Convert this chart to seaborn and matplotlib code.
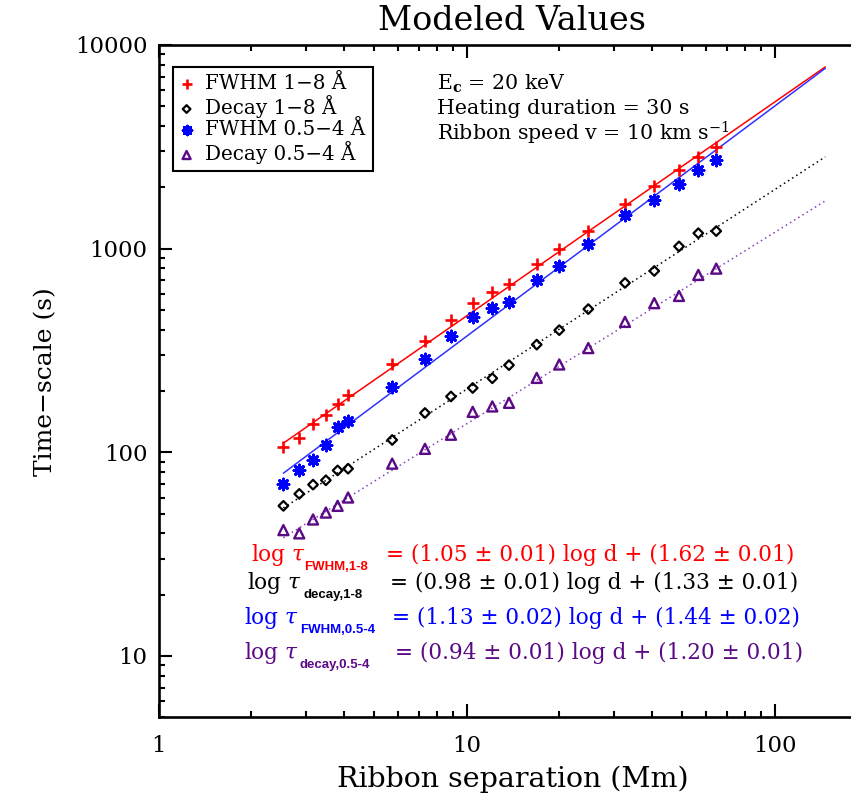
import numpy as np
import pandas as pd
import matplotlib
matplotlib.use("Agg")
import matplotlib.pyplot as plt
import seaborn as sns
from matplotlib.ticker import FixedLocator, NullFormatter, FixedFormatter

# Ribbon separation (Mm) for every modeled flare
separation = [2.54, 2.86, 3.17, 3.49, 3.81, 4.12, 5.73, 7.32, 8.89, 10.46,
              12.11, 13.72, 16.88, 19.98, 24.82, 32.66, 40.64, 48.9, 56.5, 64.6]

# Time-scales (s)
fwhm_1_8 = [106, 118, 137, 152, 173, 191, 272, 353, 447, 544,
            616, 669, 845, 995, 1220, 1661, 2025, 2425, 2830, 3160]
decay_1_8 = [54.6, 62.5, 69.4, 72.9, 81.5, 83.1, 115, 156, 188, 207,
             231, 268, 338, 398, 505, 679, 777, 1026, 1191, 1220]
fwhm_05_4 = [70.2, 82.2, 91.3, 109, 133, 142, 209, 287, 374, 460,
             509, 548, 700, 822, 1058, 1455, 1743, 2083, 2439, 2715]
decay_05_4 = [41.5, 40.0, 46.8, 50.6, 54.6, 60, 88, 104, 122, 158,
              168, 175, 232, 270, 325, 437, 540, 586, 743, 798]

series_labels = ["FWHM 1\u22128 \u00c5", "Decay 1\u22128 \u00c5",
                 "FWHM 0.5\u22124 \u00c5", "Decay 0.5\u22124 \u00c5"]
sub_labels = ["FWHM,1-8", "decay,1-8", "FWHM,0.5-4", "decay,0.5-4"]

# Power-law fits: log tau = slope * log d + intercept
slopes = [1.05, 0.98, 1.13, 0.94]
slope_err = [0.01, 0.01, 0.02, 0.01]
intercepts = [1.62, 1.33, 1.44, 1.20]
intercept_err = [0.01, 0.01, 0.02, 0.01]
fit_d_max = 146.0

x_ticks = [1, 10, 100]
x_tick_labels = ["1", "10", "100"]
y_ticks = [10, 100, 1000, 10000]
y_tick_labels = ["10", "100", "1000", "10000"]

PURPLE = "#5b0a85"
colors = ["#ff0000", "#000000", "#0000ff", PURPLE]
line_colors = ["#ff0000", "#000000", "#3030ff", "#8a3cc0"]
line_styles = ["-", (0, (1, 2.2)), "-", (0, (1, 2.2))]

W, H = 851, 799
sns.set_theme(style="ticks")
plt.rcParams["font.family"] = ["DejaVu Serif"]
plt.rcParams["mathtext.fontset"] = "dejavuserif"
for key in ["text.color", "axes.labelcolor", "xtick.color", "ytick.color",
            "axes.edgecolor"]:
    plt.rcParams[key] = "black"

fig = plt.figure(figsize=(W / 100, H / 100), dpi=100)


def fx(px):
    return px / W


def fy(py):
    return 1 - py / H


ax_left, ax_right, ax_top, ax_bottom = 158.7, 867.4, 45.0, 717.3
ax = fig.add_axes([fx(ax_left), fy(ax_bottom), (ax_right - ax_left) / W,
                   (ax_bottom - ax_top) / H])
ax.set_xscale("log")
ax.set_yscale("log")

values = [fwhm_1_8, decay_1_8, fwhm_05_4, decay_05_4]
df = pd.DataFrame({"d": separation * 4,
                   "tau": np.concatenate(values),
                   "series": np.repeat(series_labels, len(separation))})

# fitted lines
d_fit = np.array([min(separation), fit_d_max])
for i, lab in enumerate(series_labels):
    fit = pd.DataFrame({"d": d_fit, "tau": 10 ** (slopes[i] * np.log10(d_fit) + intercepts[i])})
    sns.lineplot(data=fit, x="d", y="tau", ax=ax, color=line_colors[i],
                 linestyle=line_styles[i], linewidth=1.1, legend=False, zorder=2)

# modeled points
marker_specs = [
    dict(marker="+", s=75, linewidths=1.9, color=colors[0]),
    dict(marker="D", s=24, linewidths=1.6, facecolor="none", edgecolor=colors[1]),
    dict(marker=(8, 2, 0), s=62, linewidths=2.1, color=colors[2]),
    dict(marker="^", s=52, linewidths=1.7, facecolor="none", edgecolor=colors[3]),
]
for i, lab in enumerate(series_labels):
    sub = df[df["series"] == lab]
    sns.scatterplot(data=sub, x="d", y="tau", ax=ax, label=lab, zorder=3, **marker_specs[i])

ax.set_xlim(1, 200)
ax.set_ylim(5, 10000)

ax.xaxis.set_major_locator(FixedLocator(x_ticks))
ax.xaxis.set_major_formatter(FixedFormatter(x_tick_labels))
ax.xaxis.set_minor_locator(FixedLocator([m * 10 ** e for e in range(0, 3) for m in range(2, 10)]))
ax.xaxis.set_minor_formatter(NullFormatter())
ax.yaxis.set_major_locator(FixedLocator(y_ticks))
ax.yaxis.set_major_formatter(FixedFormatter(y_tick_labels))
ax.yaxis.set_minor_locator(FixedLocator([m * 10 ** e for e in range(0, 4) for m in range(2, 10)]))
ax.yaxis.set_minor_formatter(NullFormatter())

ax.tick_params(which="both", direction="in", top=True, right=True, color="black", width=1.5)
ax.tick_params(which="major", length=9.5)
ax.tick_params(which="minor", length=4.5)
ax.tick_params(axis="x", which="major", labelsize=16.5, pad=13)
ax.tick_params(axis="y", which="major", labelsize=16.5, pad=8)
for sp in ax.spines.values():
    sp.set_linewidth(1.9)
    sp.set_color("black")

ax.set_xlabel("Ribbon separation (Mm)", fontsize=20.5, labelpad=6)
ax.set_ylabel("Time\u2212scale (s)", fontsize=18, labelpad=13)
fig.text(fx(512), fy(21), "Modeled Values", fontsize=24, ha="center", va="center")

leg = ax.legend(loc="upper left",
                bbox_to_anchor=((172.7 - ax_left) / (ax_right - ax_left),
                                1 - (67.3 - ax_top) / (ax_bottom - ax_top)),
                borderaxespad=0, frameon=True, fancybox=False, edgecolor="black",
                fontsize=14.3, handlelength=0.7, handletextpad=0.6, borderpad=0.35,
                labelspacing=0.1, markerscale=0.8)
leg.get_frame().set_linewidth(1.5)
leg.get_frame().set_alpha(1)

info = ["E$_{\\mathbf{c}}$ = 20 keV", "Heating duration = 30 s",
        "Ribbon speed v = 10 km s$^{-1}$"]
for txt, yy in zip(info, [84, 108, 133]):
    fig.text(fx(436.7), fy(yy), txt, fontsize=14.8, ha="left", va="center")

# fit equations
eq_rows = [555, 583, 618, 653]
eq_x = [(251, 304, 386), (247, 304, 390), (244, 300, 392), (244, 300, 395)]
for i in range(4):
    y0 = eq_rows[i]
    x_log, x_sub, x_eq = eq_x[i]
    fig.text(fx(x_log), fy(y0), "log $\\tau$", fontsize=15.6, color=colors[i],
             ha="left", va="center")
    fig.text(fx(x_sub), fy(y0 + 12), sub_labels[i], fontsize=9.5, fontweight="bold",
             family="Liberation Sans", color=colors[i], ha="left", va="center")
    fig.text(fx(x_eq), fy(y0),
             f"= ({slopes[i]:.2f} \u00b1 {slope_err[i]:.2f}) log d + "
             f"({intercepts[i]:.2f} \u00b1 {intercept_err[i]:.2f})",
             fontsize=15.6, color=colors[i], ha="left", va="center")

fig.savefig("out.png", dpi=100, facecolor="white")
